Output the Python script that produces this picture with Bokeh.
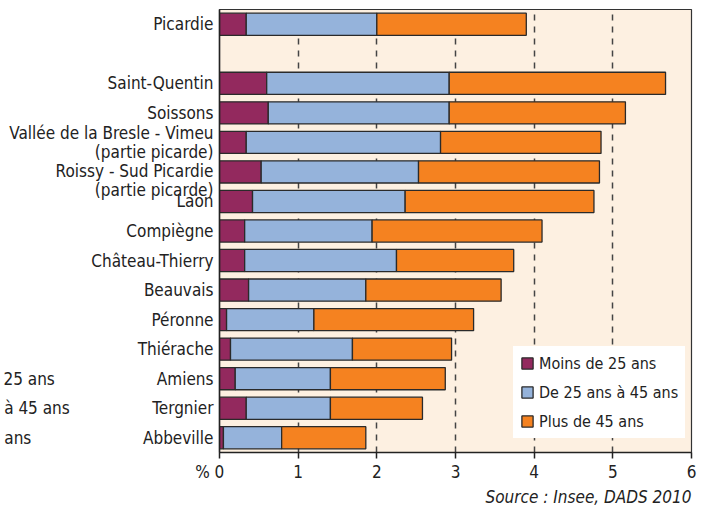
import numpy as np
from bokeh.plotting import figure
from bokeh.models import ColumnDataSource, FixedTicker, Legend, LegendItem, Title
from bokeh.embed import file_html
from bokeh.resources import INLINE

# ---- data (top to bottom; "" marks the empty slot) ----
categories = ["Picardie", "", "Saint-Quentin", "Soissons",
              "Vallée de la Bresle - Vimeu\n(partie picarde)",
              "Roissy - Sud Picardie\n(partie picarde)",
              "Laon", "Compiègne", "Château-Thierry", "Beauvais", "Péronne",
              "Thiérache", "Amiens", "Tergnier", "Abbeville"]
moins_25 = [0.34, 0, 0.60, 0.62, 0.34, 0.53, 0.42, 0.32, 0.32, 0.37, 0.09, 0.14, 0.20, 0.34, 0.05]
de_25_45 = [1.66, 0, 2.32, 2.30, 2.47, 2.00, 1.94, 1.62, 1.93, 1.49, 1.11, 1.55, 1.21, 1.07, 0.74]
plus_45 = [1.90, 0, 2.75, 2.24, 2.04, 2.30, 2.40, 2.16, 1.49, 1.72, 2.03, 1.26, 1.46, 1.17, 1.07]
series_names = ["Moins de 25 ans", "De 25 ans à 45 ans", "Plus de 45 ans"]
x_ticks = [0, 1, 2, 3, 4, 5, 6]
source_text = "Source : Insee, DADS 2010"
# cut-off legend fragments visible at the far left edge, on these rows
ghost_texts = {"Amiens": "25 ans", "Tergnier": "à 45 ans", "Abbeville": "ans"}
ghost_pad = {"Amiens": 21, "Tergnier": 17, "Abbeville": 23}

colors = ["#93295E", "#95B3DB", "#F58220"]
FONT = "'Liberation Sans Narrow', 'Arial Narrow', 'DejaVu Sans Condensed', sans-serif"

n = len(categories)
ypos = [n - 1 - i for i in range(n)]
keep = [i for i, c in enumerate(categories) if c != ""]

p = figure(width=700, height=506, x_range=(0, 6), y_range=(-0.5, n - 0.5),
           output_backend="svg", toolbar_location=None,
           min_border_left=218, min_border_right=9, min_border_top=9, min_border_bottom=2)
p.background_fill_color = "#FDF0E1"
p.border_fill_color = "white"
p.outline_line_color = "#333333"
p.outline_line_width = 1.2

vals = [moins_25, de_25_45, plus_45]
left = np.zeros(n)
legend_items = []
for name, v, c in zip(series_names, vals, colors):
    v = np.array(v, dtype=float)
    right = left + v
    src = ColumnDataSource(dict(y=[ypos[i] for i in keep], left=[left[i] for i in keep],
                                right=[right[i] for i in keep]))
    r = p.hbar(y="y", left="left", right="right", height=0.75, source=src,
               fill_color=c, line_color="#2a2a2a", line_width=1.3)
    legend_items.append(LegendItem(label=name, renderers=[r]))
    left = right

# x axis
p.xaxis.ticker = FixedTicker(ticks=x_ticks)
p.xaxis.minor_tick_line_color = None
p.xaxis.major_tick_out = 6
p.xaxis.major_tick_in = 0
p.xaxis.major_tick_line_color = "#222222"
p.xaxis.major_tick_line_width = 1.5
p.xaxis.axis_line_color = "#222222"
p.xaxis.axis_line_width = 1.5
p.xaxis.major_label_text_font = FONT
p.xaxis.major_label_text_font_size = "17px"
p.xaxis.major_label_text_color = "#222222"
p.xaxis.major_label_standoff = 3
p.xaxis.major_label_overrides = {0: "%\u00a00\u00a0\u00a0\u00a0\u00a0"}

# source line: as the x axis label aligned right if supported, else a title below
try:
    p.xaxis.axis_label_align = "right"
    p.xaxis.axis_label = source_text
    p.xaxis.axis_label_standoff = 2
    p.xaxis.axis_label_text_font = FONT
    p.xaxis.axis_label_text_font_size = "17px"
    p.xaxis.axis_label_text_font_style = "italic"
    p.xaxis.axis_label_text_color = "#222222"
except Exception:
    p.xaxis.axis_label = None
    p.add_layout(Title(text=source_text, align="right", text_font=FONT, text_font_size="17px",
                       text_font_style="italic", text_color="#222222", standoff=0), "below")

# y axis carries the category labels
label_ticks = []
overrides = {}
for i in keep:
    t = float(ypos[i])
    if categories[i].startswith("Roissy"):
        t = ypos[i] - 0.28
    txt = categories[i]
    if txt in ghost_texts:
        txt = ghost_texts[txt] + "\u00a0" * ghost_pad[txt] + txt
    label_ticks.append(t)
    overrides[t] = txt
p.yaxis.ticker = FixedTicker(ticks=label_ticks)
p.yaxis.major_label_overrides = overrides
p.yaxis.minor_tick_line_color = None
p.yaxis.major_tick_line_color = None
p.yaxis.major_tick_out = 0
p.yaxis.major_tick_in = 0
p.yaxis.major_label_standoff = 6
p.yaxis.major_label_text_font = FONT
p.yaxis.major_label_text_font_size = "17px"
p.yaxis.major_label_text_color = "#222222"
p.yaxis.major_label_text_line_height = 0.95
p.yaxis.axis_line_color = "#222222"
p.yaxis.axis_line_width = 1.5

p.xgrid.ticker = FixedTicker(ticks=x_ticks[1:-1])
p.xgrid.grid_line_color = "#444444"
p.xgrid.grid_line_width = 1.5
p.xgrid.grid_line_dash = "6 6"
p.ygrid.grid_line_color = None

legend = Legend(items=legend_items, location=(294, 14), orientation="vertical")
legend.label_text_font = FONT
legend.label_text_font_size = "16px"
legend.label_text_color = "#222222"
legend.glyph_width = 14
legend.glyph_height = 14
legend.label_height = 20
legend.spacing = 9
legend.padding = 7
legend.margin = 0
legend.border_line_alpha = 0
legend.background_fill_color = "white"
legend.background_fill_alpha = 1
p.add_layout(legend, "center")

open("out.html", "w").write(file_html(p, INLINE))
